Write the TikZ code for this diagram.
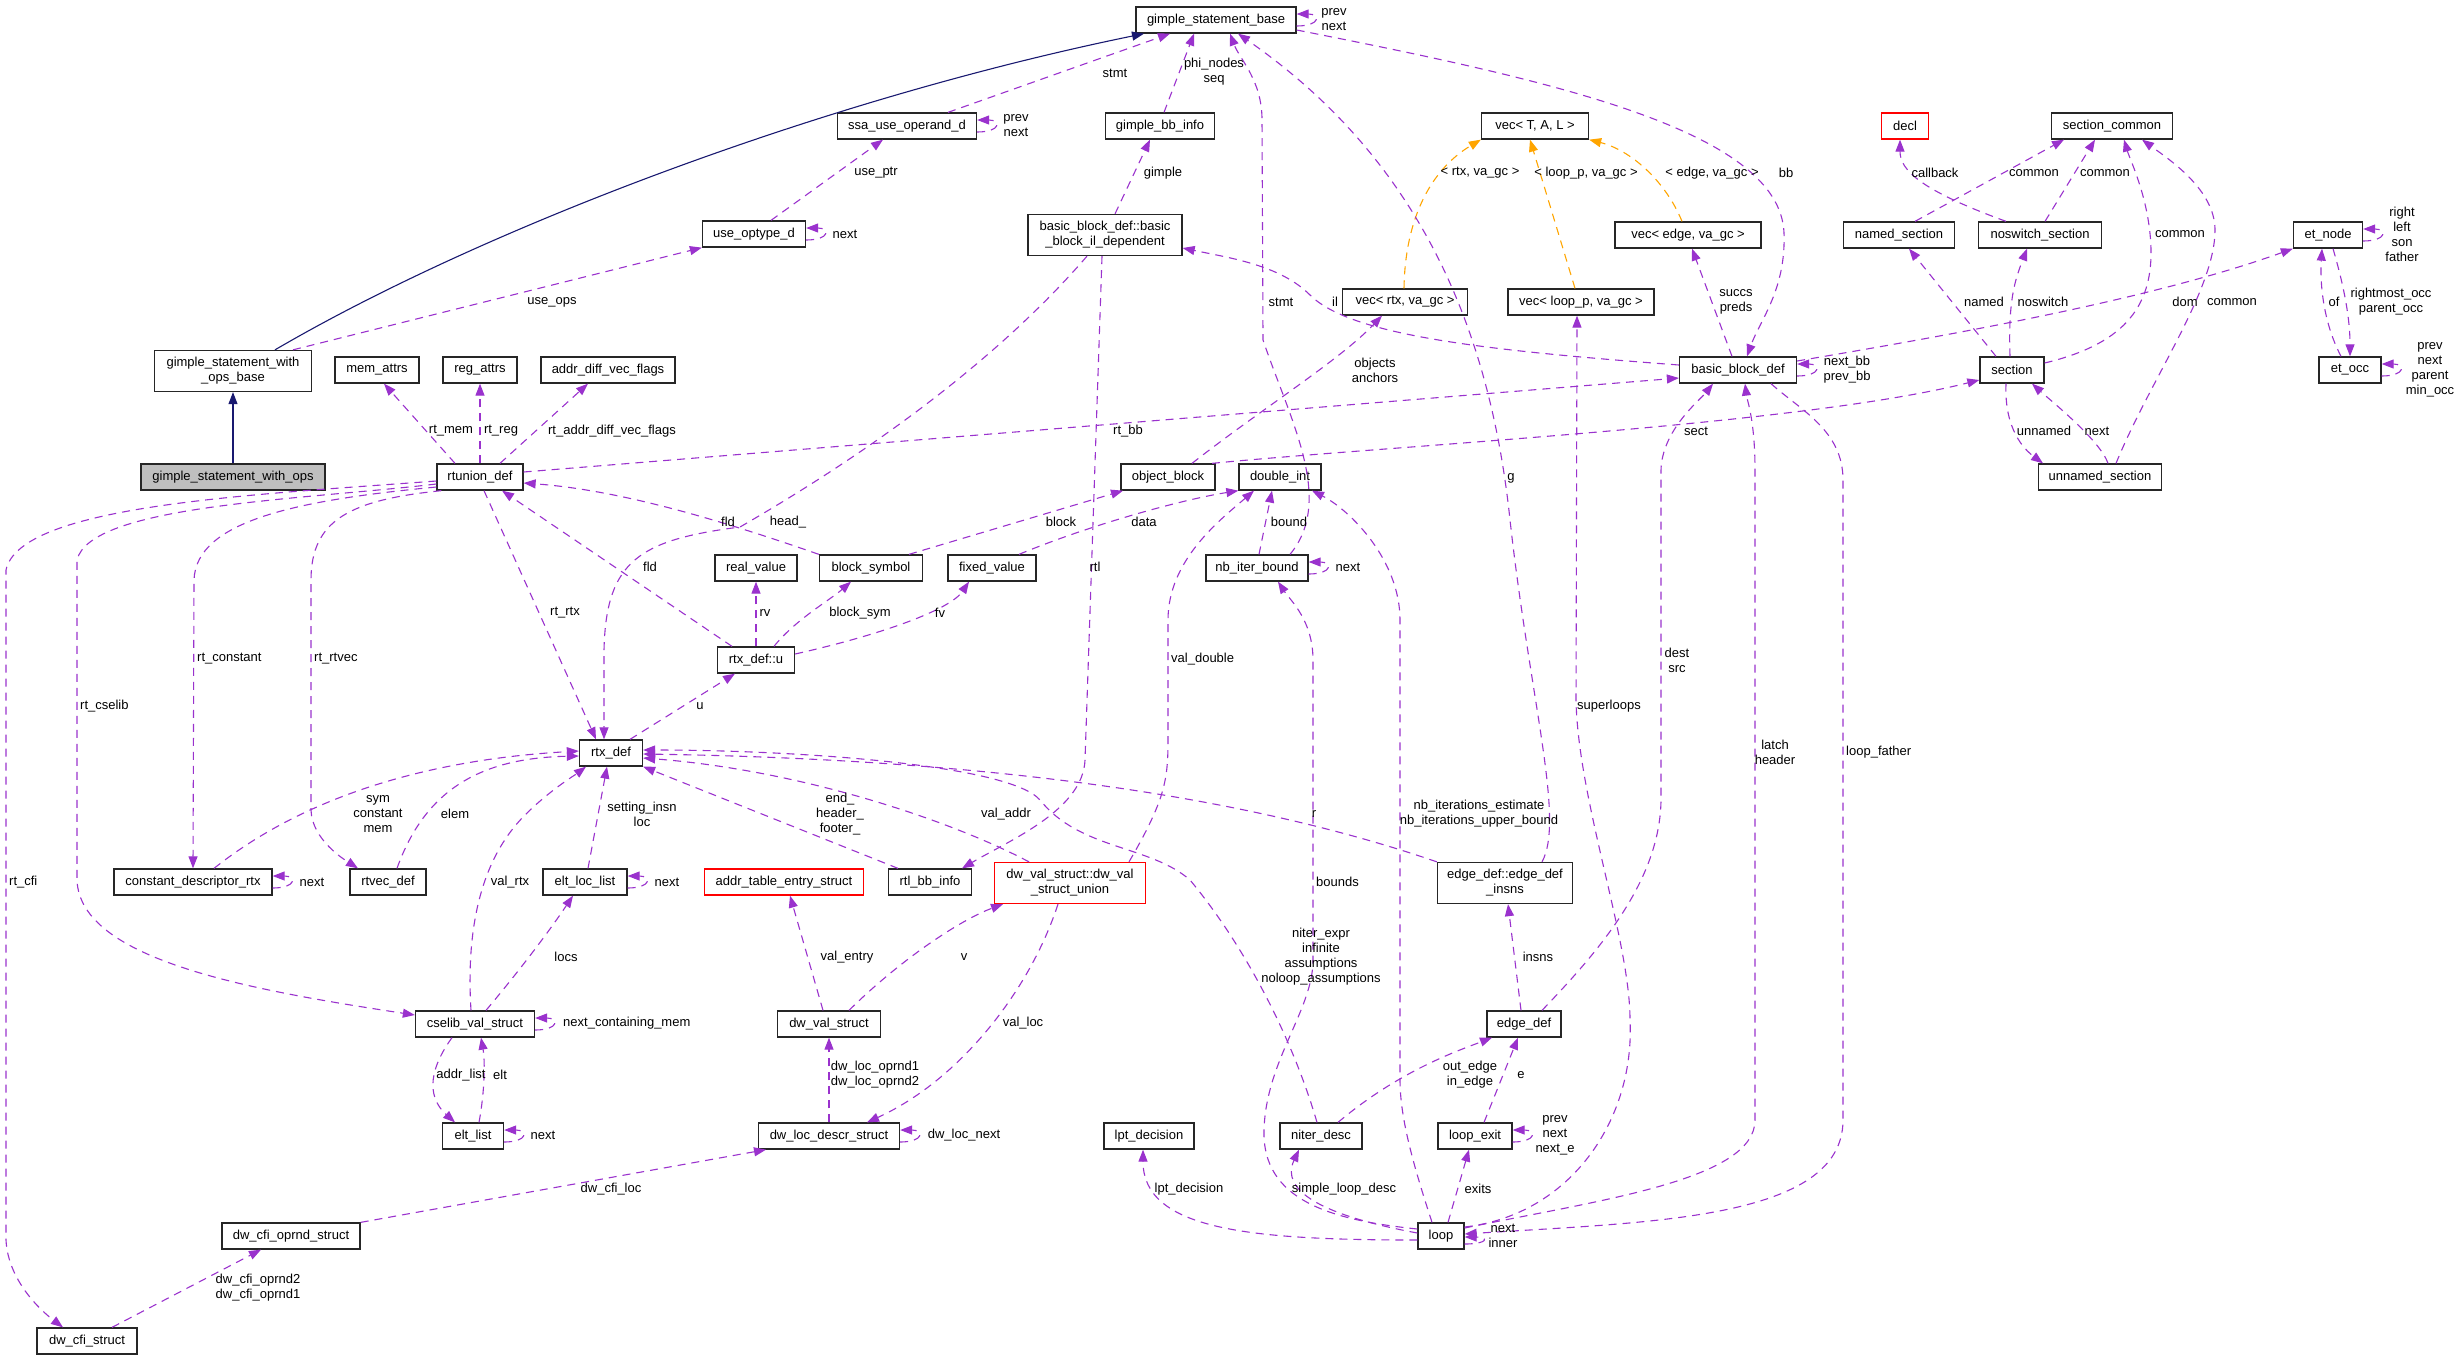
\documentclass[tikz,border=0pt]{standalone}
\usepackage{fontspec}
\setmainfont{Liberation Sans}
\usepackage{xcolor}
\usepackage{tikz}
\usetikzlibrary{arrows.meta, positioning}

\definecolor{refcol}{HTML}{9A32CD}
\definecolor{inhcol}{HTML}{191970}
\definecolor{tmplcol}{HTML}{FFA500}

\tikzset{
  cls/.style={draw=black!85, line width=1.3pt, fill=white, inner sep=3pt,
    minimum height=26pt, align=center, font=\fontsize{13}{15}\selectfont},
  lbl/.style={inner sep=0pt, align=center, font=\fontsize{13}{15}\selectfont},
  ref/.style={draw=refcol, line width=1.1pt, dash pattern=on 8pt off 6pt,
    -{Triangle[length=12pt,width=9pt]}},
  inh/.style={draw=inhcol, line width=1.1pt, -{Triangle[length=12pt,width=9pt]}},
  tmpl/.style={draw=tmplcol, line width=1.1pt, dash pattern=on 8pt off 6pt,
    -{Triangle[length=12pt,width=9pt]}}
}

% self reference on the right side of a box
\newcommand{\selfedge}[1]{\draw[ref] ([yshift=-6pt]#1.east) .. controls +(24,0) and +(24,0) .. ([yshift=6pt]#1.east);}

\begin{document}
\begin{tikzpicture}[x=1pt, y=-1pt]
		\useasboundingbox (0,0) rectangle (2459,1360);

		% Classes
		\node[cls, minimum width=160pt] (gsb) at (1216,20) {gimple\_statement\_base};
		\node[cls, minimum width=139pt] (ssa) at (907,126) {ssa\_use\_operand\_d};
		\node[cls, minimum width=109pt] (gbbi) at (1160,126) {gimple\_bb\_info};
		\node[cls, minimum width=107pt] (vect) at (1535,126) {vec< T, A, L >};
		\node[cls, draw=red, minimum width=47pt] (decl) at (1905,126) {decl};
		\node[cls, minimum width=121pt] (seccom) at (2112,126) {section\_common};
		\node[cls, minimum width=103pt] (useopt) at (754,234) {use\_optype\_d};
		\node[cls, minimum width=154pt, minimum height=41pt] (bbil) at (1105,235) {basic\_block\_def::basic\\\_block\_il\_dependent};
		\node[cls, minimum width=146pt] (vecedge) at (1688,235) {vec< edge, va\_gc >};
		\node[cls, minimum width=111pt] (named) at (1899,235) {named\_section};
		\node[cls, minimum width=123pt] (noswitch) at (2040,235) {noswitch\_section};
		\node[cls, minimum width=69pt] (etnode) at (2328,235) {et\_node};
		\node[cls, minimum width=125pt] (vecrtx) at (1405,302) {vec< rtx, va\_gc >};
		\node[cls, minimum width=146pt] (vecloop) at (1581,302) {vec< loop\_p, va\_gc >};
		\node[cls, minimum width=157pt, minimum height=41pt] (gswob) at (233,371) {gimple\_statement\_with\\\_ops\_base};
		\node[cls, minimum width=84pt] (memattrs) at (377,370) {mem\_attrs};
		\node[cls, minimum width=74pt] (regattrs) at (480,370) {reg\_attrs};
		\node[cls, minimum width=134pt] (advflags) at (608,370) {addr\_diff\_vec\_flags};
		\node[cls, minimum width=117pt] (bbd) at (1738,370) {basic\_block\_def};
		\node[cls, minimum width=64pt] (section) at (2012,370) {section};
		\node[cls, minimum width=62pt] (etocc) at (2350,370) {et\_occ};
		\node[cls, fill=black!25, minimum width=184pt] (gswo) at (233,477) {gimple\_statement\_with\_ops};
		\node[cls, minimum width=86pt] (rtunion) at (480,477) {rtunion\_def};
		\node[cls, minimum width=94pt] (objblock) at (1168,477) {object\_block};
		\node[cls, minimum width=82pt] (dint) at (1280,477) {double\_int};
		\node[cls, minimum width=123pt] (unnamed) at (2100,477) {unnamed\_section};
		\node[cls, minimum width=82pt] (realval) at (756,568) {real\_value};
		\node[cls, minimum width=103pt] (blocksym) at (871,568) {block\_symbol};
		\node[cls, minimum width=88pt] (fixedval) at (992,568) {fixed\_value};
		\node[cls, minimum width=102pt] (nbiter) at (1257,568) {nb\_iter\_bound};
		\node[cls, minimum width=77pt] (rtxu) at (756,660) {rtx\_def::u};
		\node[cls, minimum width=63pt] (rtxdef) at (611,753) {rtx\_def};
		\node[cls, minimum width=158pt] (cdr) at (193,882) {constant\_descriptor\_rtx};
		\node[cls, minimum width=76pt] (rtvec) at (388,882) {rtvec\_def};
		\node[cls, minimum width=84pt] (eltloc) at (585,882) {elt\_loc\_list};
		\node[cls, draw=red, minimum width=159pt] (addrtab) at (784,882) {addr\_table\_entry\_struct};
		\node[cls, minimum width=83pt] (rtlbb) at (930,882) {rtl\_bb\_info};
		\node[cls, draw=red, minimum width=151pt, minimum height=41pt] (dwvsu) at (1070,883) {dw\_val\_struct::dw\_val\\\_struct\_union};
		\node[cls, minimum width=135pt, minimum height=41pt] (edinsns) at (1505,883) {edge\_def::edge\_def\\\_insns};
		\node[cls, minimum width=119pt] (cselib) at (475,1024) {cselib\_val\_struct};
		\node[cls, minimum width=103pt] (dwval) at (829,1024) {dw\_val\_struct};
		\node[cls, minimum width=74pt] (edgedef) at (1524,1024) {edge\_def};
		\node[cls, minimum width=61pt] (eltlist) at (473,1136) {elt\_list};
		\node[cls, minimum width=141pt] (dldr) at (829,1136) {dw\_loc\_descr\_struct};
		\node[cls, minimum width=90pt] (lpt) at (1149,1136) {lpt\_decision};
		\node[cls, minimum width=82pt] (niter) at (1321,1136) {niter\_desc};
		\node[cls, minimum width=74pt] (loopexit) at (1475,1136) {loop\_exit};
		\node[cls, minimum width=138pt] (dcos) at (291,1236) {dw\_cfi\_oprnd\_struct};
		\node[cls, minimum width=46pt] (loop) at (1441,1236) {loop};
		\node[cls, minimum width=100pt] (dcfi) at (87,1341) {dw\_cfi\_struct};

		% Inheritance
		\draw[inh] (gswo) -- (gswob);
		\draw[inh] ([xshift=42pt]gswob.north) .. controls (480,230) and (820,100) .. ([xshift=-72pt]gsb.south);

		% Template instances
		\draw[tmpl] ([xshift=-1pt]vecrtx.north) .. controls (1405,220) and (1430,170) .. (vect.south west);
		\draw[tmpl] ([xshift=-6pt]vecloop.north) -- ([xshift=-5pt]vect.south);
		\draw[tmpl] ([xshift=-6pt]vecedge.north) .. controls (1665,180) and (1630,150) .. (vect.south east);

		% Gimple statements and blocks
		\selfedge{gsb}
		\selfedge{ssa}
		\selfedge{useopt}
		\draw[ref] ([xshift=41pt]ssa.north) -- ([xshift=-46pt]gsb.south);
		\draw[ref] ([xshift=4pt]gbbi.north) -- ([xshift=-22pt]gsb.south);
		\draw[ref] ([xshift=33pt]nbiter.north) .. controls (1335,500) and (1290,420) .. (1263,340) -- (1262,120) .. controls (1262,80) and (1240,60) .. ([xshift=14pt]gsb.south);
		\draw[ref] ([xshift=37pt]edinsns.north) .. controls (1565,820) and (1530,700) .. (1510,520) .. controls (1490,330) and (1420,160) .. ([xshift=22pt]gsb.south);
		\draw[ref] ([yshift=-10pt]gsb.east) .. controls (1550,80) and (1780,130) .. (1784,233) .. controls (1786,290) and (1760,320) .. ([xshift=9pt]bbd.north);
		\draw[ref] ([xshift=17pt]useopt.north) -- ([xshift=-24pt]ssa.south);
		\draw[ref] ([xshift=60pt]gswob.north) -- (useopt.south west);
		\draw[ref] ([xshift=10pt]bbil.north) -- ([xshift=-10pt]gbbi.south);
		\draw[ref] ([yshift=5pt]bbd.west) .. controls (1480,350) and (1350,335) .. (1310,295) .. controls (1280,265) and (1230,258) .. ([yshift=-13pt]bbil.east);
		\draw[ref] ([xshift=-18pt]bbil.south) .. controls (980,380) and (830,475) .. (740,527) .. controls (640,540) and (606,560) .. (604,650) -- ([xshift=-7pt]rtxdef.north);
		\draw[ref] ([xshift=-3pt]bbil.south) -- (1085,760) .. controls (1083,810) and (1010,840) .. ([xshift=32pt]rtlbb.north);
		\draw[ref] ([xshift=24pt]objblock.north) .. controls (1260,410) and (1340,360) .. ([xshift=-23pt]vecrtx.south);
		\draw[ref] ([yshift=5pt]rtunion.east) -- ([yshift=-8pt]bbd.west);
		\draw[ref] ([xshift=44pt]objblock.north) .. controls (1400,445) and (1800,425) .. ([yshift=-10pt]section.west);
		\draw[ref] ([yshift=9pt]loop.east) .. controls (1570,1215) and (1635,1120) .. (1630,1020) .. controls (1630,940) and (1578,800) .. (1576,700) -- ([xshift=-4pt]vecloop.south);
		\draw[ref] ([xshift=-6pt]bbd.north) -- ([xshift=4pt]vecedge.south);
		\selfedge{bbd}
		\draw[ref] ([yshift=9pt]bbd.east) .. controls (1950,335) and (2150,300) .. (etnode.south west);

		% Sections
		\draw[ref] ([xshift=16pt]named.north) -- ([xshift=-48pt]seccom.south);
		\draw[ref] ([xshift=5pt]noswitch.north) -- ([xshift=-17pt]seccom.south);
		\draw[ref] ([xshift=-34pt]noswitch.north) .. controls (1920,190) and (1900,170) .. ([xshift=-5pt]decl.south);
		\draw[ref] ([xshift=-16pt]section.north) -- ([xshift=10pt]named.south);
		\draw[ref] ([xshift=-2pt]section.north) .. controls (2008,300) and (2015,280) .. ([xshift=-13pt]noswitch.south);
		\draw[ref] ([yshift=7pt]section.east) .. controls (2120,345) and (2152,310) .. (2151,250) .. controls (2150,200) and (2130,160) .. ([xshift=12pt]seccom.south);
		\draw[ref] ([xshift=16pt]unnamed.north) .. controls (2150,380) and (2215,290) .. (2215,230) .. controls (2215,190) and (2170,160) .. ([xshift=30pt]seccom.south);
		\draw[ref] ([xshift=-6pt]section.south) .. controls (2004,430) and (2025,450) .. ([xshift=-57pt]unnamed.north);
		\draw[ref] ([xshift=8pt]unnamed.north) .. controls (2100,440) and (2050,400) .. ([xshift=20pt]section.south);

		% Et tree
		\selfedge{etnode}
		\selfedge{etocc}
		\draw[ref] ([xshift=-9pt]etocc.north) .. controls (2322,320) and (2320,280) .. ([xshift=-6pt]etnode.south);
		\draw[ref] ([xshift=5pt]etnode.south) .. controls (2345,290) and (2350,320) .. (etocc.north);

		% rtunion_def
		\draw[ref] ([xshift=-25pt]rtunion.north) -- ([xshift=7pt]memattrs.south);
		\draw[ref] (rtunion.north) -- (regattrs.south);
		\draw[ref] ([xshift=20pt]rtunion.north) -- ([xshift=-20pt]advflags.south);
		\draw[ref] ([yshift=-4pt]rtunion.west) .. controls (250,495) and (20,505) .. (6,570) -- (6,1240) .. controls (8,1280) and (40,1310) .. ([xshift=-24pt]dcfi.north);
		\draw[ref] ([yshift=-7pt]rtunion.west) .. controls (300,500) and (90,505) .. (77,560) -- (77,880) .. controls (80,960) and (250,990) .. ([yshift=9pt]cselib.west);
		\draw[ref] ([yshift=-10pt]rtunion.west) .. controls (300,500) and (196,520) .. (194,580) -- (cdr.north);
		\draw[ref] ([xshift=5pt]rtunion.south west) .. controls (350,500) and (311,520) .. (311,580) -- (311,810) .. controls (312,840) and (345,860) .. ([xshift=-30pt]rtvec.north);
		\draw[ref] ([xshift=4pt]rtunion.south) -- ([xshift=-15pt]rtxdef.north);

		% rtx_def::u
		\draw[ref] ([xshift=-24pt]rtxu.north) -- ([xshift=22pt]rtunion.south);
		\draw[ref] (blocksym.north west) .. controls (720,520) and (620,490) .. ([yshift=-6pt]rtunion.east);
		\draw[ref] ([xshift=19pt]rtxdef.north) -- ([xshift=-21pt]rtxu.south);
		\draw[ref] (rtxu.north) -- (realval.south);
		\draw[ref] ([xshift=18pt]rtxu.north) .. controls (795,620) and (830,600) .. ([xshift=-20pt]blocksym.south);
		\draw[ref] ([yshift=6pt]rtxu.east) .. controls (880,635) and (950,610) .. ([xshift=-23pt]fixedval.south);
		\draw[ref] ([xshift=38pt]blocksym.north) -- ([xshift=-45pt]objblock.south);
		\draw[ref] ([xshift=27pt]fixedval.north) .. controls (1090,525) and (1180,500) .. (dint.south west);
		\draw[ref] ([xshift=2pt]nbiter.north) -- ([xshift=-8pt]dint.south);
		\selfedge{nbiter}

		% double_int
		\draw[ref] ([xshift=59pt]dwvsu.north) .. controls (1165,800) and (1168,780) .. (1168,740) -- (1168,620) .. controls (1168,560) and (1220,520) .. ([xshift=-26pt]dint.south);
		\draw[ref] ([xshift=-9pt]loop.north) .. controls (1415,1170) and (1400,1120) .. (1400,1080) -- (1400,620) .. controls (1400,560) and (1350,510) .. ([xshift=32pt]dint.south);
		\draw[ref] ([yshift=7pt]loop.west) .. controls (1330,1220) and (1262,1200) .. (1264,1130) .. controls (1266,1060) and (1313,1010) .. (1313,960) -- (1313,660) .. controls (1313,620) and (1290,600) .. ([xshift=21pt]nbiter.south);

		% rtx_def
		\draw[ref] ([xshift=-4pt]niter.north) .. controls (1290,1030) and (1240,940) .. (1190,880) .. controls (1150,845) and (1080,850) .. (1040,800) .. controls (1010,765) and (800,750) .. ([yshift=3pt]rtxdef.east);
		\draw[ref] (edinsns.north west) .. controls (1200,780) and (900,758) .. ([yshift=-1pt]rtxdef.east);
		\draw[ref] ([xshift=-41pt]dwvsu.north) .. controls (950,820) and (800,770) .. ([yshift=-5pt]rtxdef.east);
		\draw[ref] ([xshift=-32pt]rtlbb.north) -- (rtxdef.south east);
		\draw[ref] ([xshift=21pt]cdr.north) .. controls (300,800) and (420,760) .. ([yshift=2pt]rtxdef.west);
		\selfedge{cdr}
		\draw[ref] ([xshift=9pt]rtvec.north) .. controls (425,790) and (480,758) .. ([yshift=-3pt]rtxdef.west);
		\draw[ref] ([xshift=-4pt]cselib.north) .. controls (466,930) and (480,860) .. (525,815) .. controls (550,790) and (575,775) .. ([xshift=-25pt]rtxdef.south);
		\draw[ref] ([xshift=3pt]eltloc.north) -- ([xshift=-4pt]rtxdef.south);
		\selfedge{eltloc}

		% cselib
		\draw[ref] ([xshift=11pt]cselib.north) .. controls (520,970) and (550,930) .. ([xshift=-12pt]eltloc.south);
		\selfedge{cselib}
		\draw[ref] ([xshift=-23pt]cselib.south) .. controls (425,1075) and (430,1100) .. ([xshift=-18pt]eltlist.north);
		\draw[ref] ([xshift=6pt]eltlist.north) .. controls (485,1090) and (485,1060) .. ([xshift=6pt]cselib.south);
		\selfedge{eltlist}

		% dwarf
		\draw[ref] ([xshift=-6pt]dwval.north) -- ([xshift=6pt]addrtab.south);
		\draw[ref] ([xshift=20pt]dwval.north) .. controls (900,960) and (960,920) .. ([xshift=-67pt]dwvsu.south);
		\draw[ref] ([xshift=-12pt]dwvsu.south) .. controls (1030,990) and (960,1080) .. ([xshift=38pt]dldr.north);
		\draw[ref] (dldr.north) -- (dwval.south);
		\selfedge{dldr}
		\draw[ref] (dcos.north east) -- ([xshift=-63pt]dldr.south);
		\draw[ref] ([xshift=25pt]dcfi.north) -- ([xshift=-30pt]dcos.south);

		% loop
		\draw[ref] ([yshift=-4pt]loop.west) .. controls (1250,1240) and (1143,1230) .. ([xshift=-6pt]lpt.south);
		\draw[ref] ([yshift=3pt]loop.west) .. controls (1320,1215) and (1280,1190) .. ([xshift=-22pt]niter.south);
		\draw[ref] ([xshift=7pt]loop.north) -- ([xshift=-6pt]loopexit.south);
		\selfedge{loopexit}
		\draw[ref] ([xshift=9pt]loopexit.north) -- ([xshift=-6pt]edgedef.south);
		\draw[ref] ([xshift=17pt]niter.north) .. controls (1400,1070) and (1460,1050) .. ([xshift=-32pt]edgedef.south);
		\draw[ref] ([xshift=-3pt]edgedef.north) -- ([xshift=3pt]edinsns.south);
		\draw[ref] ([xshift=18pt]edgedef.north) .. controls (1600,950) and (1660,880) .. (1661,800) -- (1661,470) .. controls (1662,430) and (1700,400) .. ([xshift=-25pt]bbd.south);
		\draw[ref] ([yshift=8pt]loop.east) .. controls (1600,1200) and (1755,1180) .. (1755,1120) -- (1755,470) .. controls (1755,420) and (1747,400) .. ([xshift=7pt]bbd.south);
		\draw[ref] ([xshift=33pt]bbd.south) .. controls (1800,410) and (1843,430) .. (1843,480) -- (1843,1120) .. controls (1843,1220) and (1650,1222) .. ([yshift=2pt]loop.east);
		\draw[ref] ([yshift=-8pt]loop.east) .. controls +(24,0) and +(24,0) .. ([yshift=-1pt]loop.east);

		% Labels
		\node[lbl] (l-stmt1) at (1115,73) {stmt};
		\node[lbl] (l-phi) at (1214,72) {phi\_nodes\\seq};
		\node[lbl] (l-gsbself) at (1334,20) {prev\\next};
		\node[lbl] (l-ssaself) at (1016,126) {prev\\next};
		\node[lbl] (l-useptr) at (876,173) {use\_ptr};
		\node[lbl] (l-gimple) at (1163,173) {gimple};
		\node[lbl] (l-useoptself) at (845,234) {next};
		\node[lbl] (l-vrtx) at (1480,173) {< rtx, va\_gc >};
		\node[lbl] (l-vloop) at (1586,173) {< loop\_p, va\_gc >};
		\node[lbl] (l-vedge) at (1712,173) {< edge, va\_gc >};
		\node[lbl] (l-bb) at (1786,173) {bb};
		\node[lbl] (l-callback) at (1935,173) {callback};
		\node[lbl] (l-common1) at (2034,173) {common};
		\node[lbl] (l-common2) at (2105,173) {common};
		\node[lbl] (l-common3) at (2180,234) {common};
		\node[lbl] (l-etnodeself) at (2402,234) {right\\left\\son\\father};
		\node[lbl] (l-stmt2) at (1281,302) {stmt};
		\node[lbl] (l-il) at (1335,302) {il};
		\node[lbl] (l-useops) at (552,302) {use\_ops};
		\node[lbl] (l-succs) at (1736,302) {succs\\preds};
		\node[lbl] (l-named) at (1984,302) {named};
		\node[lbl] (l-noswitch) at (2043,302) {noswitch};
		\node[lbl] (l-dom) at (2185,302) {dom};
		\node[lbl] (l-common4) at (2232,302) {common};
		\node[lbl] (l-of) at (2334,302) {of};
		\node[lbl] (l-rightmost) at (2391,302) {rightmost\_occ\\parent\_occ};
		\node[lbl] (l-objects) at (1375,370) {objects\\anchors};
		\node[lbl] (l-bbdself) at (1847,370) {next\_bb\\prev\_bb};
		\node[lbl] (l-etoccself) at (2430,370) {prev\\next\\parent\\min\_occ};
		\node[lbl] (l-rtmem) at (451,431) {rt\_mem};
		\node[lbl] (l-rtreg) at (501,431) {rt\_reg};
		\node[lbl] (l-rtadv) at (612,431) {rt\_addr\_diff\_vec\_flags};
		\node[lbl] (l-rtbb) at (1128,431) {rt\_bb};
		\node[lbl] (l-sect) at (1696,431) {sect};
		\node[lbl] (l-unnamed) at (2044,431) {unnamed};
		\node[lbl] (l-next1) at (2097,431) {next};
		\node[lbl] (l-g) at (1511,478) {g};
		\node[lbl] (l-fld1) at (728,522) {fld};
		\node[lbl] (l-head) at (788,522) {head\_};
		\node[lbl] (l-block) at (1061,522) {block};
		\node[lbl] (l-data) at (1144,522) {data};
		\node[lbl] (l-bound) at (1289,522) {bound};
		\node[lbl] (l-fld2) at (650,567) {fld};
		\node[lbl] (l-rtl) at (1095,567) {rtl};
		\node[lbl] (l-nbiterself) at (1348,567) {next};
		\node[lbl] (l-rtrtx) at (565,613) {rt\_rtx};
		\node[lbl] (l-rv) at (765,613) {rv};
		\node[lbl] (l-blocksym) at (860,613) {block\_sym};
		\node[lbl] (l-fv) at (940,613) {fv};
		\node[lbl, anchor=west] (l-rtconst) at (197,659) {rt\_constant};
		\node[lbl, anchor=west] (l-rtrtvec) at (314,659) {rt\_rtvec};
		\node[lbl, anchor=west] (l-valdouble) at (1171,659) {val\_double};
		\node[lbl] (l-dest) at (1677,660) {dest\\src};
		\node[lbl, anchor=west] (l-rtcselib) at (80,706) {rt\_cselib};
		\node[lbl] (l-u) at (700,706) {u};
		\node[lbl, anchor=west] (l-superloops) at (1577,706) {superloops};
		\node[lbl] (l-latch) at (1775,752) {latch\\header};
		\node[lbl, anchor=west] (l-loopfather) at (1846,752) {loop\_father};
		\node[lbl] (l-sym) at (378,814) {sym\\constant\\mem};
		\node[lbl] (l-elem) at (455,814) {elem};
		\node[lbl] (l-setting) at (642,814) {setting\_insn\\loc};
		\node[lbl] (l-end) at (840,814) {end\_\\header\_\\footer\_};
		\node[lbl] (l-valaddr) at (1006,814) {val\_addr};
		\node[lbl] (l-r) at (1314,814) {r};
		\node[lbl] (l-nbiters) at (1479,814) {nb\_iterations\_estimate\\nb\_iterations\_upper\_bound};
		\node[lbl, anchor=west] (l-rtcfi) at (9,882) {rt\_cfi};
		\node[lbl] (l-cdrself) at (312,882) {next};
		\node[lbl] (l-valrtx) at (510,882) {val\_rtx};
		\node[lbl] (l-eltlocself) at (667,882) {next};
		\node[lbl, anchor=west] (l-bounds) at (1316,882) {bounds};
		\node[lbl] (l-niterexpr) at (1321,957) {niter\_expr\\infinite\\assumptions\\noloop\_assumptions};
		\node[lbl] (l-locs) at (566,957) {locs};
		\node[lbl] (l-valentry) at (847,957) {val\_entry};
		\node[lbl] (l-v) at (964,957) {v};
		\node[lbl] (l-insns) at (1538,957) {insns};
		\node[lbl, anchor=west] (l-cselibself) at (563,1023) {next\_containing\_mem};
		\node[lbl] (l-valloc) at (1023,1023) {val\_loc};
		\node[lbl] (l-addrlist) at (461,1075) {addr\_list};
		\node[lbl] (l-elt) at (500,1075) {elt};
		\node[lbl] (l-oprnd) at (875,1075) {dw\_loc\_oprnd1\\dw\_loc\_oprnd2};
		\node[lbl] (l-outedge) at (1470,1075) {out\_edge\\in\_edge};
		\node[lbl] (l-e) at (1521,1075) {e};
		\node[lbl] (l-eltlistself) at (543,1135) {next};
		\node[lbl] (l-dldrself) at (964,1135) {dw\_loc\_next};
		\node[lbl] (l-loopexitself) at (1555,1135) {prev\\next\\next\_e};
		\node[lbl] (l-cfiloc) at (611,1189) {dw\_cfi\_loc};
		\node[lbl] (l-lpt) at (1189,1189) {lpt\_decision};
		\node[lbl] (l-simple) at (1344,1189) {simple\_loop\_desc};
		\node[lbl] (l-exits) at (1478,1189) {exits};
		\node[lbl] (l-loopself) at (1503,1236) {next\\inner};
		\node[lbl] (l-cfioprnd) at (258,1288) {dw\_cfi\_oprnd2\\dw\_cfi\_oprnd1};
	\end{tikzpicture}
\end{document}
